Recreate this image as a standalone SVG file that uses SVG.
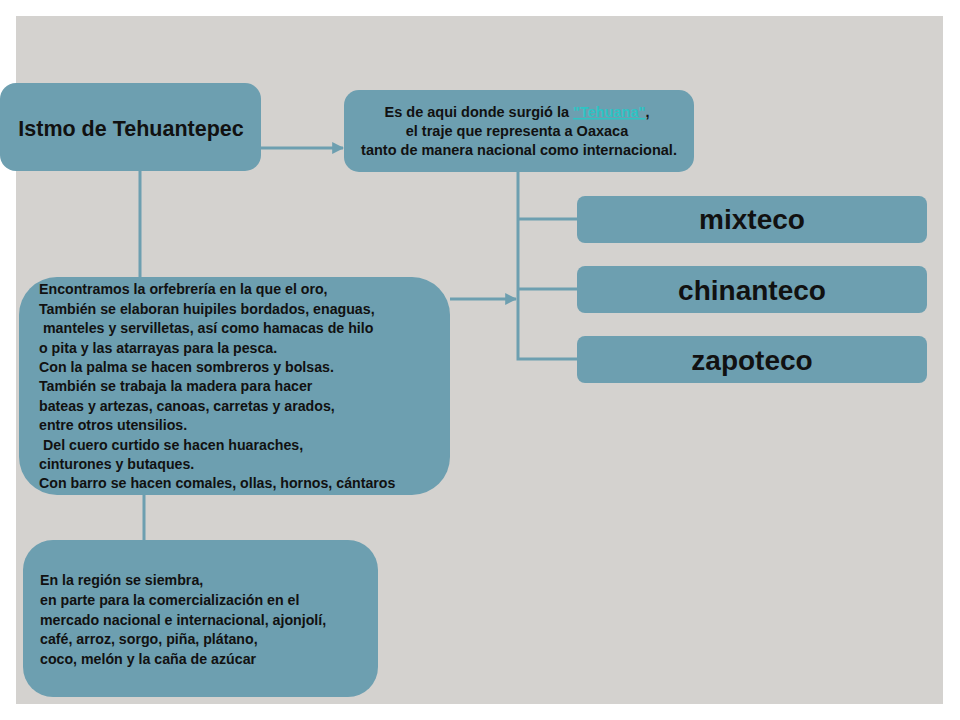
<svg xmlns="http://www.w3.org/2000/svg" width="960" height="720" viewBox="0 0 960 720">
<defs>
<style>
.box{fill:#6d9fb0;}
.t{font-family:"Liberation Sans",Arial,sans-serif;font-weight:bold;fill:#111;}
.s{font-size:14.2px;}
.big{font-size:28px;}
.conn{stroke:#6d9fb0;stroke-width:3;fill:none;}
.link{fill:#2ec4c4;text-decoration:underline;}
</style>
<marker id="ah" viewBox="0 0 10 10" refX="9" refY="5" markerWidth="4" markerHeight="4" orient="auto" markerUnits="strokeWidth">
<path d="M0,0 L10,5 L0,10 z" fill="#6d9fb0"/>
</marker>
</defs>
<rect x="0" y="0" width="960" height="720" fill="#ffffff"/>
<rect x="16" y="16" width="927" height="688" fill="#d4d2cf"/>
<g id="connectors">
<line class="conn" x1="260" y1="148" x2="343" y2="148" marker-end="url(#ah)"/>
<line class="conn" x1="140" y1="170" x2="140" y2="278"/>
<line class="conn" x1="144" y1="494" x2="144" y2="541"/>
<line class="conn" x1="450" y1="299" x2="516" y2="299" marker-end="url(#ah)"/>
<polyline class="conn" points="518,171 518,359 578,359"/>
<line class="conn" x1="518" y1="219" x2="578" y2="219"/>
<line class="conn" x1="518" y1="289" x2="578" y2="289"/>
</g>
<g id="istmo">
<rect class="box" x="0" y="83" width="261" height="88" rx="16"/>
<text class="t" x="131" y="136" font-size="21.5" text-anchor="middle">Istmo de Tehuantepec</text>
</g>
<g id="tehuana">
<rect class="box" x="344" y="90" width="350" height="82" rx="15"/>
<text class="t" font-size="14.5" text-anchor="middle">
<tspan x="519" y="117">Es de aqui donde surgió la <tspan class="link">"Tehuana"</tspan>,</tspan>
<tspan x="519" y="136">el traje que representa a Oaxaca</tspan>
<tspan x="519" y="155">tanto de manera nacional como internacional.</tspan>
</text>
</g>
<g id="mixteco">
<rect class="box" x="577" y="196" width="350" height="47" rx="8"/>
<text class="t big" x="752" y="229" text-anchor="middle">mixteco</text>
</g>
<g id="chinanteco">
<rect class="box" x="577" y="266" width="350" height="47" rx="8"/>
<text class="t big" x="752" y="300" text-anchor="middle">chinanteco</text>
</g>
<g id="zapoteco">
<rect class="box" x="577" y="336" width="350" height="47" rx="8"/>
<text class="t big" x="752" y="370" text-anchor="middle">zapoteco</text>
</g>
<g id="artesanias">
<rect class="box" x="19" y="277" width="431" height="218" rx="38"/>
<text class="t s">
<tspan x="39" y="294">Encontramos la orfebrería en la que el oro,</tspan>
<tspan x="39" y="313.5">También se elaboran huipiles bordados, enaguas,</tspan>
<tspan x="43" y="333">manteles y servilletas, así como hamacas de hilo</tspan>
<tspan x="39" y="352.5">o pita y las atarrayas para la pesca.</tspan>
<tspan x="39" y="372">Con la palma se hacen sombreros y bolsas.</tspan>
<tspan x="39" y="391">También se trabaja la madera para hacer</tspan>
<tspan x="39" y="410.5">bateas y artezas, canoas, carretas y arados,</tspan>
<tspan x="39" y="430">entre otros utensilios.</tspan>
<tspan x="43" y="449.5">Del cuero curtido se hacen huaraches,</tspan>
<tspan x="39" y="468.5">cinturones y butaques.</tspan>
<tspan x="39" y="488">Con barro se hacen comales, ollas, hornos, cántaros</tspan>
</text>
</g>
<g id="siembra">
<rect class="box" x="23" y="540" width="355" height="157" rx="30"/>
<text class="t s">
<tspan x="40" y="585">En la región se siembra,</tspan>
<tspan x="40" y="605">en parte para la comercialización en el</tspan>
<tspan x="40" y="624.5">mercado nacional e internacional, ajonjolí,</tspan>
<tspan x="40" y="644">café, arroz, sorgo, piña, plátano,</tspan>
<tspan x="40" y="663.5">coco, melón y la caña de azúcar</tspan>
</text>
</g>
</svg>
